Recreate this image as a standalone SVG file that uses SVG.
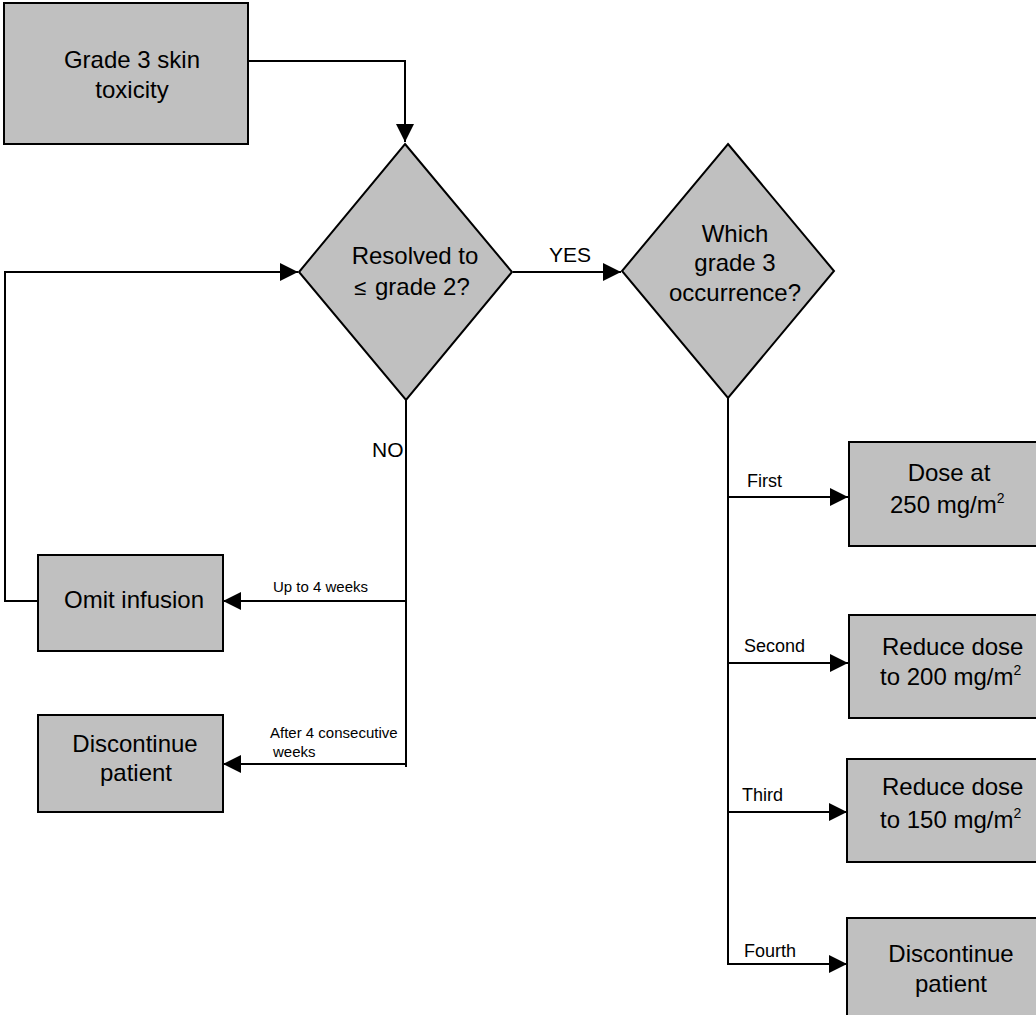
<svg xmlns="http://www.w3.org/2000/svg" width="1036" height="1015" viewBox="0 0 1036 1015">
<style>
.n{fill:#c0c0c0;stroke:#000;stroke-width:2}
.t{font-family:"Liberation Sans",Arial,sans-serif;font-size:24px;fill:#000}
.m{text-anchor:middle}
.l{font-family:"Liberation Sans",Arial,sans-serif;fill:#000}
.c{fill:none;stroke:#000;stroke-width:2}
</style>
<defs>
<marker id="ah" markerUnits="userSpaceOnUse" markerWidth="18" markerHeight="18" refX="18" refY="9" orient="auto">
<path d="M0,0 L18,9 L0,18 z" fill="#000"/>
</marker>
</defs>
<rect width="1036" height="1015" fill="#fff"/>
<g id="connectors">
<path class="c" d="M245,61 H405 V142" marker-end="url(#ah)"/>
<path class="c" d="M513,272 H621" marker-end="url(#ah)"/>
<path class="c" d="M38,601 H5 V272 H298" marker-end="url(#ah)"/>
<path class="c" d="M406,400 V767"/>
<path class="c" d="M406,601 H223" marker-end="url(#ah)"/>
<path class="c" d="M406,764 H223" marker-end="url(#ah)"/>
<path class="c" d="M728,398 V965"/>
<path class="c" d="M727,497 H848" marker-end="url(#ah)"/>
<path class="c" d="M727,663 H848" marker-end="url(#ah)"/>
<path class="c" d="M727,812 H847" marker-end="url(#ah)"/>
<path class="c" d="M727,964 H847" marker-end="url(#ah)"/>
<text class="l" x="549" y="262" font-size="21">YES</text>
<text class="l" x="372" y="457" font-size="21">NO</text>
<text class="l" x="273" y="592" font-size="15">Up to 4 weeks</text>
<text class="l" x="270" y="738" font-size="15">After 4 consecutive</text>
<text class="l" x="273" y="757" font-size="15">weeks</text>
<text class="l" x="747" y="487" font-size="18">First</text>
<text class="l" x="744" y="652" font-size="18">Second</text>
<text class="l" x="742" y="801" font-size="18">Third</text>
<text class="l" x="744" y="957" font-size="18">Fourth</text>
</g>
<g id="start">
<rect class="n" x="4" y="3" width="244" height="141"/>
<text class="t m" x="132" y="68">Grade 3 skin</text>
<text class="t m" x="132" y="98">toxicity</text>
</g>
<g id="resolved">
<polygon class="n" points="405,144 512,272 406,400 299,272"/>
<text class="t m" x="415" y="264">Resolved to</text>
<text class="t" y="295"><tspan x="354" font-size="22">≤</tspan><tspan x="375">grade 2?</tspan></text>
</g>
<g id="which">
<polygon class="n" points="728,144 834,271 728,398 622,271"/>
<text class="t m" x="735" y="242">Which</text>
<text class="t m" x="735" y="271">grade 3</text>
<text class="t m" x="735" y="301">occurrence?</text>
</g>
<g id="omit">
<rect class="n" x="38" y="555" width="185" height="96"/>
<text class="t m" x="134" y="608">Omit infusion</text>
</g>
<g id="discontinue-left">
<rect class="n" x="38" y="715" width="185" height="97"/>
<text class="t m" x="135" y="752">Discontinue</text>
<text class="t m" x="136" y="781">patient</text>
</g>
<g id="dose250">
<rect class="n" x="849" y="442" width="200" height="104"/>
<text class="t m" x="949" y="481">Dose at</text>
<text class="t" x="890" y="513">250 mg/m<tspan font-size="14" dy="-10">2</tspan></text>
</g>
<g id="dose200">
<rect class="n" x="849" y="615" width="200" height="103"/>
<text class="t" x="882" y="655">Reduce dose</text>
<text class="t" x="880" y="685">to 200 mg/m<tspan font-size="14" dy="-10">2</tspan></text>
</g>
<g id="dose150">
<rect class="n" x="847" y="759" width="200" height="103"/>
<text class="t" x="882" y="795">Reduce dose</text>
<text class="t" x="880" y="828">to 150 mg/m<tspan font-size="14" dy="-10">2</tspan></text>
</g>
<g id="discontinue-right">
<rect class="n" x="847" y="918" width="200" height="120"/>
<text class="t m" x="951" y="962">Discontinue</text>
<text class="t m" x="951" y="992">patient</text>
</g>
</svg>
